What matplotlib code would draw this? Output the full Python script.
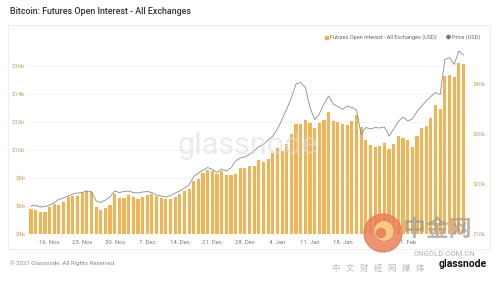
import numpy as np
import pandas as pd
import matplotlib
matplotlib.use("Agg")
import matplotlib.pyplot as plt
import matplotlib.dates as mdates
from matplotlib.patches import Rectangle, Circle

# daily values, 12 Nov 2020 onwards
dates = pd.date_range("2020-11-12", periods=94, freq="D")

# futures open interest, billions USD
oi_b = [5.8, 5.7, 5.55, 5.6, 5.95, 6.15, 6.05, 6.3, 6.65, 6.7,
        6.75, 6.9, 7.05, 7.0, 5.9, 5.75, 5.85, 6.1, 6.85, 6.6,
        6.6, 6.8, 6.65, 6.52, 6.64, 6.79, 6.83, 6.7, 6.6, 6.52,
        6.48, 6.64, 6.83, 7.07, 7.19, 7.79, 7.9, 8.38, 8.55, 8.5,
        8.26, 8.5, 8.24, 8.24, 8.26, 8.7, 8.69, 8.86, 8.86, 9.26,
        9.17, 9.33, 9.81, 10.17, 9.93, 10.4, 11.12, 11.88, 11.88, 12.12,
        11.95, 11.55, 11.95, 12.12, 12.74, 12.07, 12.0, 11.84, 11.79, 12.07,
        12.5, 11.64, 10.69, 10.36, 10.21, 10.29, 10.52, 10.05, 10.4, 11.0,
        10.83, 10.69, 10.21, 11.0, 11.6, 11.71, 12.31, 13.19, 12.9, 15.29,
        15.33, 15.21, 16.24, 16.17]

# BTC price, thousands USD
price_k = [15.6, 15.8, 15.4, 15.5, 15.8, 16.3, 16.9, 17.2, 17.6, 18.0,
           18.2, 18.3, 18.6, 18.5, 16.6, 16.3, 16.8, 17.4, 18.6, 18.3,
           18.5, 18.6, 18.3, 18.2, 18.4, 18.5, 18.3, 17.8, 17.6, 17.4,
           17.7, 18.2, 18.6, 19.2, 19.8, 21.5, 22.2, 22.8, 23.3, 22.9,
           22.3, 23.0, 22.6, 23.2, 24.6, 25.2, 25.4, 25.9, 26.6, 27.5,
           27.9, 28.8, 29.6, 31.0, 32.9, 35.0, 37.3, 40.0, 40.3, 39.3,
           35.3, 32.9, 34.0, 36.0, 37.6, 36.0, 35.5, 34.9, 35.6, 35.3,
           34.8, 29.9, 31.3, 31.0, 31.3, 31.2, 31.4, 29.6, 31.0, 32.5,
           33.4, 32.6, 33.0, 34.5, 35.6, 36.6, 37.5, 38.3, 37.9, 44.9,
           45.3, 43.9, 46.6, 45.8]

left_ticks = [4, 6, 8, 10, 12, 14, 16]
right_ticks = [10, 20, 30, 40]
# x labels hidden under the watermark in the reference
hidden_labels = ["25. Jan", "8. Feb"]

bar_col = "#f2b355"
tick_col = "#c9a36b"

plt.rcParams["font.family"] = ["Roboto", "DejaVu Sans"]

fig = plt.figure(figsize=(4.99, 2.82), dpi=100)
W, H = 499, 282

def fx(px):
    return px / W

def fy(py):
    return 1 - py / H

def pin(px, py):
    # pixel position (from top-left) to inches for dpi_scale_trans
    return (px / 100, (H - py) / 100)

# panel frame
fig.patches.append(Rectangle((fx(8), fy(249)), fx(482), fy(25) - fy(249),
                             transform=fig.transFigure, fill=False,
                             edgecolor="#ececec", lw=0.6))

ax = fig.add_axes([fx(29), fy(234), fx(441), fy(45) - fy(234)])
ax2 = ax.twinx()

x0 = mdates.date2num(dates[0])
ax.set_xlim(x0 - 0.43, x0 - 0.43 + 441 / 4.65)
ax.set_ylim(4, 4 + 189 / 14)
ax2.set_ylim(10, 10 + 189 / 5)

ax.bar(dates, oi_b, width=0.68, color=bar_col, zorder=2)
ax2.plot(dates, price_k, color="#8c8c8c", lw=0.6, zorder=3)

ax.set_yticks(left_ticks)
ax.set_yticklabels([f"${t}b" for t in left_ticks])
ax2.set_yticks(right_ticks)
ax2.set_yticklabels([f"${t}k" for t in right_ticks])
ax.grid(axis="y", color="#efefef", lw=0.5, zorder=0)
ax.set_axisbelow(True)

def date_label(v, pos):
    s = mdates.num2date(v).strftime("%-d. %b")
    return "" if s in hidden_labels else s

ax.xaxis.set_major_locator(mdates.WeekdayLocator(byweekday=mdates.MO))
ax.xaxis.set_major_formatter(plt.FuncFormatter(date_label))

for a in (ax, ax2):
    for s in a.spines.values():
        s.set_visible(False)
    a.tick_params(length=0, labelsize=4.3, pad=2.5)
ax.tick_params(axis="y", colors=tick_col)
ax2.tick_params(axis="y", colors=tick_col, pad=2)
ax.tick_params(axis="x", colors="#7a7a7a", pad=4)

# title and legend
fig.text(fx(10), fy(11), "Bitcoin: Futures Open Interest - All Exchanges",
         fontsize=6.4, fontweight="medium", color="#333333", va="center")
fig.lines.append(plt.Line2D([fx(8), fx(490)], [fy(25), fy(25)],
                            transform=fig.transFigure, color="#ececec", lw=0.6))
fig.patches.append(Rectangle((fx(324.5), fy(38.5)), fx(3), fy(35.5) - fy(38.5),
                             transform=fig.transFigure, color=bar_col))
fig.text(fx(330), fy(37), "Futures Open Interest - All Exchanges (USD)",
         fontsize=4, color="#666666", va="center")
fig.patches.append(Circle(pin(448.5, 37), 0.016,
                          transform=fig.dpi_scale_trans, color="#777777"))
fig.text(fx(452), fy(37), "Price (USD)", fontsize=4, color="#666666", va="center")

# glassnode watermark
fig.text(fx(248), fy(146), "glassnode", fontsize=22, color="#dddddd",
         alpha=0.55, ha="center", va="center", zorder=5)

# footer
fig.text(fx(10), fy(263), "\u00a9 2021 Glassnode. All Rights Reserved.",
         fontsize=4.3, color="#8a8a8a", va="center")

# cngold watermark
fig.patches.append(Circle(pin(383, 233), 0.19, transform=fig.dpi_scale_trans,
                          color="#e8805a", alpha=0.85, zorder=6))
fig.patches.append(Circle(pin(384, 231), 0.09, transform=fig.dpi_scale_trans,
                          color="#f6d08a", alpha=0.9, zorder=7))
fig.patches.append(Circle(pin(381, 233), 0.045, transform=fig.dpi_scale_trans,
                          color="#e8805a", alpha=0.9, zorder=8))
cjk = ["Noto Sans CJK SC", "DejaVu Sans"]
fig.text(fx(437), fy(229), "\u4e2d\u91d1\u7f51", fontsize=16.5, color="#9a9a9a",
         alpha=0.7, ha="center", va="center", family=cjk, fontweight="bold", zorder=6)
fig.text(fx(444), fy(254), "CNGOLD.COM.CN", fontsize=5.5, color="#b0b0b0",
         ha="center", va="center", zorder=6)
fig.text(fx(378), fy(268), "\u4e2d   \u6587   \u8d22   \u7ecf   \u7f51   \u5a92   \u4f53",
         fontsize=6, color="#b8b8b8", ha="center", va="center", family=cjk, zorder=6)
fig.text(fx(463), fy(264), "glassnode", fontsize=7.5, fontweight="bold",
         color="#111111", ha="center", va="center", zorder=7)

fig.savefig("out.png", dpi=100)
